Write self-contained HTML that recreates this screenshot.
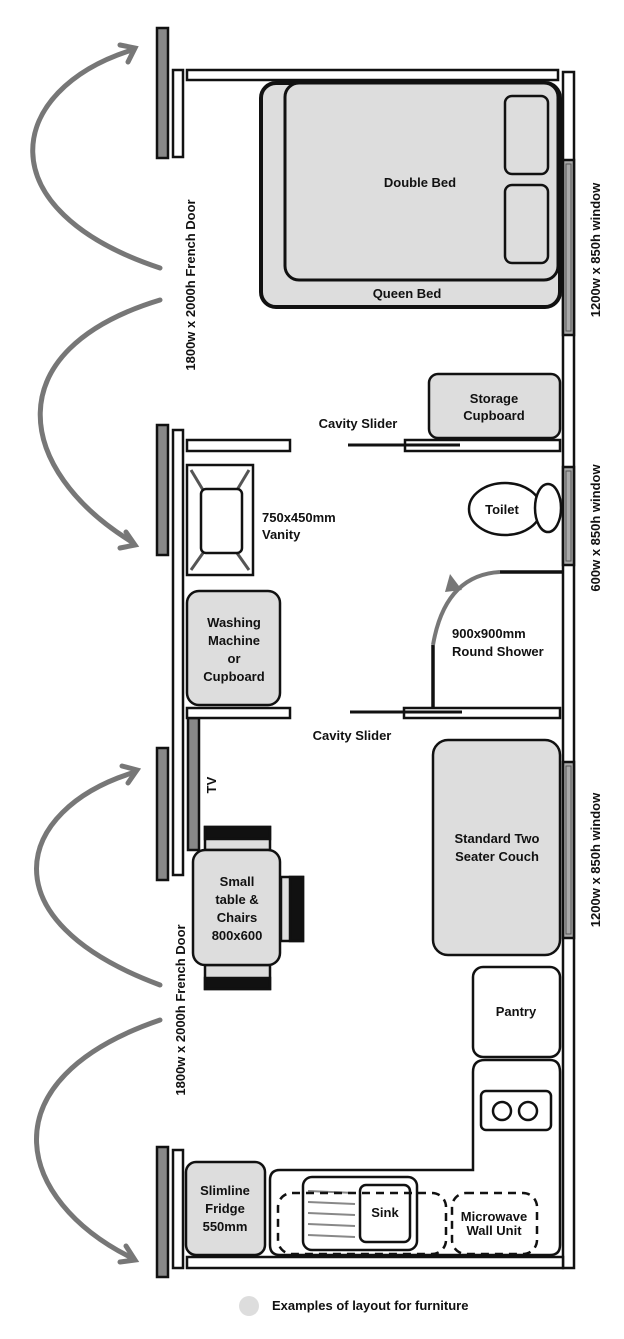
<!DOCTYPE html>
<html><head><style>body{margin:0;background:#fff}svg{display:block}text{font-family:"Liberation Sans",sans-serif;font-size:13px;fill:#111;font-weight:bold}</style></head><body>
<svg width="624" height="1339" viewBox="0 0 624 1339" xmlns="http://www.w3.org/2000/svg">
<g stroke="#111" stroke-width="2.5" fill="#fff">
<rect x="157" y="28" width="11" height="130" fill="#888"/>
<rect x="157" y="425" width="11" height="130" fill="#888"/>
<rect x="157" y="748" width="11" height="132" fill="#888"/>
<rect x="157" y="1147" width="11" height="130" fill="#888"/>
<rect x="173" y="70" width="10" height="87"/>
<rect x="173" y="430" width="10" height="445"/>
<rect x="188" y="718" width="11" height="132" fill="#888"/>
<rect x="173" y="1150" width="10" height="118"/>
<rect x="187" y="70" width="371" height="10"/>
<rect x="563" y="72" width="11" height="1196"/>
<rect x="563" y="160" width="11" height="175" fill="#aaa"/>
<rect x="563" y="467" width="11" height="98" fill="#aaa"/>
<rect x="563" y="762" width="11" height="176" fill="#aaa"/>
<rect x="187" y="1257" width="376" height="11"/>
<rect x="187" y="440" width="103" height="11"/>
<rect x="405" y="440" width="155" height="11"/>
<rect x="187" y="708" width="103" height="10"/>
<rect x="404" y="708" width="156" height="10"/>
</g>
<g stroke="#555" stroke-width="1" fill="none">
<rect x="566" y="164" width="5" height="167"/>
<rect x="566" y="471" width="5" height="90"/>
<rect x="566" y="766" width="5" height="168"/>
</g>
<g stroke="#111" stroke-width="3">
<line x1="348" y1="445" x2="460" y2="445"/>
<line x1="350" y1="712" x2="462" y2="712"/>
</g>
<g stroke="#111" fill="#ddd">
<rect x="261" y="83" width="299" height="224" rx="15" stroke-width="4"/>
<rect x="285" y="83" width="273" height="197" rx="14" stroke-width="3"/>
<rect x="505" y="96" width="43" height="78" rx="7" stroke-width="2.5"/>
<rect x="505" y="185" width="43" height="78" rx="7" stroke-width="2.5"/>
<rect x="429" y="374" width="131" height="64" rx="9" stroke-width="2.5"/>
<rect x="187" y="591" width="93" height="114" rx="12" stroke-width="2.5"/>
<rect x="433" y="740" width="127" height="215" rx="15" stroke-width="2.5"/>
<rect x="186" y="1162" width="79" height="93" rx="10" stroke-width="2.5"/>
</g>
<g stroke="#111" stroke-width="2.5" fill="#fff">
<rect x="187" y="465" width="66" height="110"/>
<g stroke="#555" stroke-width="3"><line x1="191" y1="470" x2="203" y2="490"/><line x1="249" y1="470" x2="237" y2="490"/><line x1="191" y1="570" x2="203" y2="553"/><line x1="249" y1="570" x2="237" y2="553"/></g>
<rect x="201" y="489" width="41" height="64" rx="5"/>
<ellipse cx="505" cy="509" rx="36" ry="26"/>
<ellipse cx="548" cy="508" rx="13" ry="24"/>
</g>
<g stroke="#111" stroke-width="3.5"><line x1="500" y1="572" x2="563" y2="572"/><line x1="433" y1="645" x2="433" y2="708"/></g>
<path d="M500,572 Q445,575 433,645" stroke="#777" stroke-width="4" fill="none"/>
<path d="M450,574 L462,590 L445,592 Z" fill="#777"/>
<g stroke="#111" stroke-width="2.5">
<rect x="205" y="827" width="65" height="23" fill="#ddd"/><rect x="205" y="827" width="65" height="12" fill="#111"/>
<rect x="205" y="965" width="65" height="24" fill="#ddd"/><rect x="205" y="978" width="65" height="11" fill="#111"/>
<rect x="281" y="877" width="22" height="64" fill="#ddd"/><rect x="290" y="877" width="13" height="64" fill="#111"/>
<rect x="193" y="850" width="87" height="115" rx="12" fill="#ddd"/>
</g>
<g stroke="#111" stroke-width="2.5" fill="#fff">
<rect x="473" y="967" width="87" height="90" rx="10"/>
<path d="M280,1170 L473,1170 L473,1072 Q473,1060 485,1060 L550,1060 Q560,1060 560,1072 L560,1245 Q560,1255 550,1255 L280,1255 Q270,1255 270,1245 L270,1180 Q270,1170 280,1170 Z"/>
<rect x="481" y="1091" width="70" height="39" rx="5"/>
<circle cx="502" cy="1111" r="9"/><circle cx="528" cy="1111" r="9"/>
<rect x="303" y="1177" width="114" height="73" rx="9"/>
<g stroke="#888" stroke-width="2"><line x1="308" y1="1191" x2="355" y2="1193"/><line x1="308" y1="1202" x2="355" y2="1204"/><line x1="308" y1="1213" x2="355" y2="1215"/><line x1="308" y1="1224" x2="355" y2="1226"/><line x1="308" y1="1235" x2="355" y2="1237"/></g>
<rect x="360" y="1185" width="50" height="57" rx="6"/>
<rect x="278" y="1193" width="168" height="61" rx="14" fill="none" stroke-dasharray="8,6"/>
<rect x="452" y="1193" width="85" height="61" rx="14" fill="none" stroke-dasharray="8,6"/>
</g>
<g stroke="#777" stroke-width="5" fill="none" stroke-linecap="round">
<path d="M160,268 C-15,210 5,90 132,50"/>
<path d="M160,300 C-5,350 15,470 132,542"/>
<path d="M160,985 C-15,920 15,810 132,773"/>
<path d="M160,1020 C-15,1080 15,1200 132,1258"/>
<path d="M120,45 L135,48 L128,62"/>
<path d="M120,548 L135,545 L126,532"/>
<path d="M122,766 L137,770 L128,783"/>
<path d="M120,1262 L135,1260 L126,1246"/>
</g>
<text x="420" y="187" text-anchor="middle" font-size="15">Double Bed</text>
<text x="407" y="298" text-anchor="middle" font-size="15">Queen Bed</text>
<text x="494" y="403" text-anchor="middle">Storage</text>
<text x="494" y="420" text-anchor="middle">Cupboard</text>
<text x="358" y="428" text-anchor="middle">Cavity Slider</text>
<text x="352" y="740" text-anchor="middle">Cavity Slider</text>
<text x="262" y="522">750x450mm</text>
<text x="262" y="539">Vanity</text>
<text x="502" y="514" text-anchor="middle">Toilet</text>
<text x="452" y="638">900x900mm</text>
<text x="452" y="656">Round Shower</text>
<text x="234" y="627" text-anchor="middle">Washing</text>
<text x="234" y="645" text-anchor="middle">Machine</text>
<text x="234" y="663" text-anchor="middle">or</text>
<text x="234" y="681" text-anchor="middle">Cupboard</text>
<text x="237" y="886" text-anchor="middle">Small</text>
<text x="237" y="904" text-anchor="middle">table &amp;</text>
<text x="237" y="922" text-anchor="middle">Chairs</text>
<text x="237" y="940" text-anchor="middle">800x600</text>
<text x="497" y="843" text-anchor="middle">Standard Two</text>
<text x="497" y="861" text-anchor="middle">Seater Couch</text>
<text x="516" y="1016" text-anchor="middle" font-size="11">Pantry</text>
<text x="225" y="1195" text-anchor="middle">Slimline</text>
<text x="225" y="1213" text-anchor="middle">Fridge</text>
<text x="225" y="1231" text-anchor="middle">550mm</text>
<text x="385" y="1217" text-anchor="middle">Sink</text>
<text x="494" y="1221" text-anchor="middle" font-size="11">Microwave</text>
<text x="494" y="1235" text-anchor="middle" font-size="11">Wall Unit</text>
<text transform="translate(216,785) rotate(-90)" text-anchor="middle">TV</text>
<text transform="translate(195,285) rotate(-90)" text-anchor="middle">1800w x 2000h French Door</text>
<text transform="translate(185,1010) rotate(-90)" text-anchor="middle">1800w x 2000h French Door</text>
<text transform="translate(600,250) rotate(-90)" text-anchor="middle">1200w x 850h window</text>
<text transform="translate(600,528) rotate(-90)" text-anchor="middle">600w x 850h window</text>
<text transform="translate(600,860) rotate(-90)" text-anchor="middle">1200w x 850h window</text>
<circle cx="249" cy="1306" r="10" fill="#ddd"/>
<text x="272" y="1310" font-size="12">Examples of layout for furniture</text>
</svg>
</body></html>
